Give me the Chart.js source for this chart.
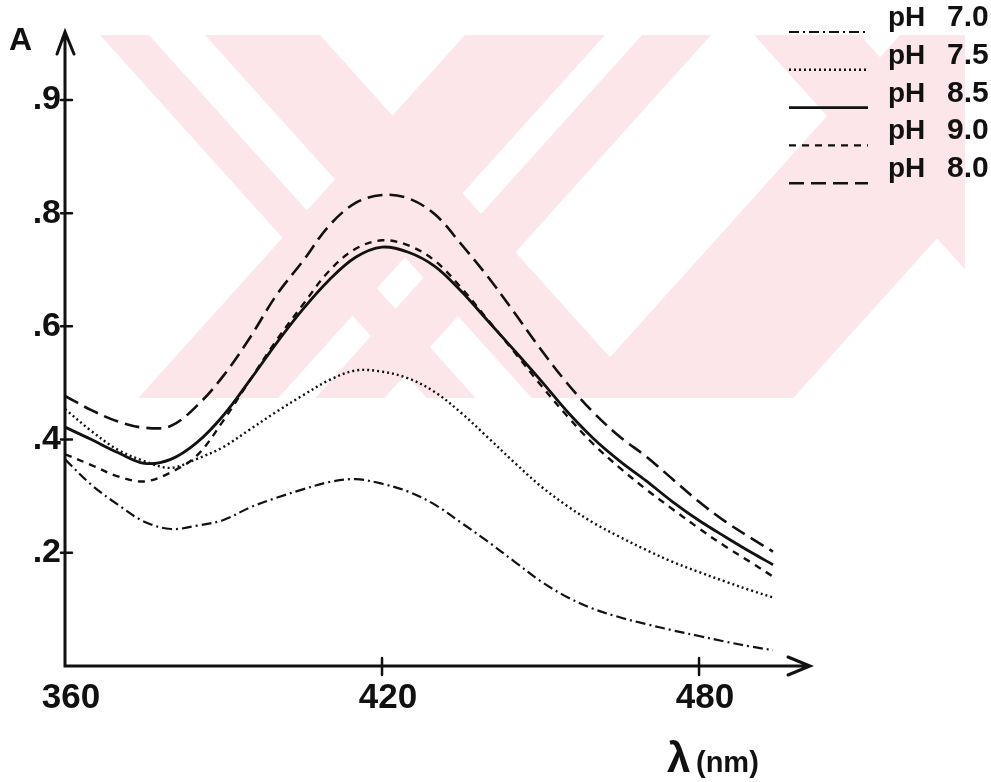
<!DOCTYPE html>
<html>
<head>
<meta charset="utf-8">
<title>Absorbance spectra at different pH</title>
<script src="https://cdn.jsdelivr.net/npm/chart.js@4.4.1/dist/chart.umd.min.js"></script>
<style>
  html, body { margin: 0; padding: 0; background: #fff; }
  #wrap { width: 991px; height: 782px; }
</style>
</head>
<body>
<div id="wrap"><canvas id="spectra" width="991" height="782"></canvas></div>
<script>
// wavelength (nm) at which each curve was read
const WAVELENGTH = [360, 365, 370, 375, 380, 385, 390, 395, 400, 405, 410, 415, 420, 425,
  430, 435, 440, 445, 450, 455, 460, 465, 470, 475, 480, 485, 490, 494];

// absorbance, one array per pH
const PH_70 = [0.365, 0.320, 0.285, 0.255, 0.242, 0.248, 0.258, 0.280, 0.297, 0.312, 0.325, 0.330, 0.322, 0.308,
  0.285, 0.253, 0.220, 0.185, 0.150, 0.122, 0.101, 0.086, 0.074, 0.063, 0.053, 0.043, 0.034, 0.028];
const PH_75 = [0.454, 0.415, 0.382, 0.362, 0.350, 0.366, 0.387, 0.418, 0.449, 0.478, 0.505, 0.522, 0.520, 0.508,
  0.484, 0.447, 0.404, 0.360, 0.318, 0.283, 0.253, 0.228, 0.205, 0.184, 0.166, 0.149, 0.133, 0.121];
const PH_85 = [0.422, 0.400, 0.377, 0.358, 0.365, 0.395, 0.443, 0.505, 0.570, 0.630, 0.682, 0.722, 0.740, 0.731,
  0.706, 0.662, 0.610, 0.558, 0.505, 0.450, 0.402, 0.362, 0.327, 0.290, 0.257, 0.228, 0.200, 0.179];
const PH_90 = [0.374, 0.355, 0.335, 0.326, 0.342, 0.372, 0.434, 0.505, 0.575, 0.638, 0.698, 0.737, 0.752, 0.743,
  0.716, 0.668, 0.612, 0.555, 0.497, 0.442, 0.392, 0.350, 0.312, 0.277, 0.243, 0.211, 0.182, 0.158];
const PH_80 = [0.477, 0.452, 0.432, 0.421, 0.424, 0.460, 0.513, 0.580, 0.655, 0.715, 0.778, 0.818, 0.832, 0.826,
  0.798, 0.745, 0.688, 0.625, 0.560, 0.500, 0.448, 0.405, 0.370, 0.330, 0.290, 0.255, 0.225, 0.202];

const SERIES_LABELS = ["pH 7.0", "pH 7.5", "pH 8.5", "pH 9.0", "pH 8.0"];
const SERIES_VALUES = [PH_70, PH_75, PH_85, PH_90, PH_80];
const SERIES_DASH = [[10, 4, 2, 4], [2, 3], [], [7, 6], [15, 7]];
const SERIES_WIDTH = [2.2, 2.4, 2.8, 2.4, 2.6];

const X_TICKS = [360, 420, 480];
const Y_TICKS = [0.2, 0.4, 0.6, 0.8, 1.0];
const Y_TICK_LABELS = [".2", ".4", ".6", ".8", ".9"];

const WIDE = '"Liberation Sans", Arial, sans-serif';
const INK = "#111";

// pink thesis watermark behind the plot (decoration only)
const WM_TOP = 35, WM_BOTTOM = 398, WM_LEFT = 100, WM_RIGHT = 965;
const WM_BANDS = [
  // [left x at top, right x at top, slope dx/dy]
  [100, 149, 0.9], [205, 320, 0.9],
  [465, 605, -0.9], [642, 711, -0.9],
  [754, 860, 0.9], [900, 1120, -0.9]
];

const paperPlugin = {
  id: "paper",
  beforeDraw(chart) {
    const c = chart.ctx;
    c.save();
    c.fillStyle = "#fff";
    c.fillRect(0, 0, chart.width, chart.height);
    c.beginPath();
    c.rect(WM_LEFT, WM_TOP, WM_RIGHT - WM_LEFT, WM_BOTTOM - WM_TOP);
    c.clip();
    c.fillStyle = "#fde6ea";
    const h = WM_BOTTOM - WM_TOP;
    WM_BANDS.forEach(([a, b, k]) => {
      c.beginPath();
      c.moveTo(a, WM_TOP);
      c.lineTo(b, WM_TOP);
      c.lineTo(b + k * h, WM_BOTTOM);
      c.lineTo(a + k * h, WM_BOTTOM);
      c.closePath();
      c.fill();
    });
    c.restore();
  }
};

const axesPlugin = {
  id: "handAxes",
  afterDraw(chart) {
    const c = chart.ctx;
    const xs = chart.scales.x, ys = chart.scales.y;
    const x0 = xs.getPixelForValue(360), y0 = ys.getPixelForValue(0);
    const xEnd = xs.right, yEnd = ys.top;
    c.save();
    c.strokeStyle = INK;
    c.fillStyle = INK;
    c.lineWidth = 3;
    c.lineCap = "round";

    // axis lines with arrow heads
    c.beginPath();
    c.moveTo(x0, yEnd); c.lineTo(x0, y0); c.lineTo(xEnd, y0);
    c.moveTo(x0 - 8, yEnd + 22); c.lineTo(x0, yEnd); c.lineTo(x0 + 9, yEnd + 22);
    c.moveTo(xEnd - 22, y0 - 9); c.lineTo(xEnd, y0); c.lineTo(xEnd - 22, y0 + 9);
    c.stroke();

    // small crossing ticks
    c.lineWidth = 2.5;
    c.beginPath();
    X_TICKS.forEach(v => {
      const px = xs.getPixelForValue(v);
      if (v !== 360) { c.moveTo(px, y0 - 8); c.lineTo(px, y0 + 9); }
    });
    Y_TICKS.forEach(v => {
      const py = ys.getPixelForValue(v);
      c.moveTo(x0 - 4, py); c.lineTo(x0 + 7, py);
    });
    c.stroke();

    // axis names
    c.textAlign = "left";
    c.textBaseline = "alphabetic";
    c.font = "bold 32px " + WIDE;
    c.fillText("A", 9, 50);
    c.font = "bold 42px " + WIDE;
    c.fillText("λ", 667, 772);
    c.font = "bold 29px " + WIDE;
    c.fillText("(nm)", 696, 772);

    // legend
    const lx0 = 789, lx1 = 868;
    chart.data.datasets.forEach((ds, i) => {
      const ly = 32 + i * 37.8;
      c.setLineDash(ds.borderDash);
      c.lineWidth = ds.borderWidth;
      c.lineCap = "butt";
      c.beginPath();
      c.moveTo(lx0, ly); c.lineTo(lx1, ly);
      c.stroke();
      c.setLineDash([]);
      const parts = ds.label.split(" ");
      c.font = "bold 28px " + WIDE;
      c.fillText(parts[0], 888, ly - 6);
      c.font = "bold 30px " + WIDE;
      c.fillText(parts[1], 947, ly - 6);
    });
    c.restore();
  }
};

const chart = new Chart(document.getElementById("spectra"), {
  type: "line",
  data: {
    datasets: SERIES_LABELS.map((label, i) => ({
      label,
      data: WAVELENGTH.map((x, j) => ({ x, y: SERIES_VALUES[i][j] })),
      borderColor: INK,
      borderWidth: SERIES_WIDTH[i],
      borderDash: SERIES_DASH[i],
      pointRadius: 0,
      tension: 0.35,
      fill: false
    }))
  },
  options: {
    responsive: false,
    animation: false,
    layout: { padding: { top: 32, right: 181, left: 0, bottom: 0 } },
    plugins: { legend: { display: false }, tooltip: { enabled: false } },
    scales: {
      x: {
        type: "linear",
        min: 360,
        max: 501,
        grid: { display: false, drawTicks: false },
        border: { display: false },
        afterBuildTicks(scale) { scale.ticks = X_TICKS.map(v => ({ value: v })); },
        afterFit(scale) { scale.height = 116; },
        ticks: {
          color: INK,
          padding: 11,
          labelOffset: 6,
          maxRotation: 0,
          font: { family: WIDE, size: 35, weight: "bold" },
          callback: v => String(v)
        }
      },
      y: {
        min: 0,
        max: 1.12,
        grid: { display: false, drawTicks: false },
        border: { display: false },
        afterBuildTicks(scale) { scale.ticks = Y_TICKS.map(v => ({ value: v })); },
        afterFit(scale) { scale.width = 65; },
        ticks: {
          color: INK,
          padding: 4,
          font: { family: WIDE, size: 34, weight: "bold" },
          callback: v => Y_TICK_LABELS[Y_TICKS.indexOf(v)]
        }
      }
    }
  },
  plugins: [paperPlugin, axesPlugin]
});
</script>
</body>
</html>
